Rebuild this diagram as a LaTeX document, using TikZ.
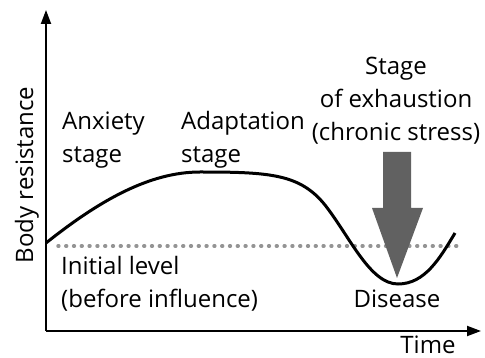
\documentclass[tikz,border=0pt]{standalone}
\usepackage{fontspec}
\setmainfont{Open Sans}
\usepackage{tikz}
\usetikzlibrary{arrows.meta}
\tikzset{>={Triangle[length=14pt,width=10pt]}}
\colorlet{penColor}{black}
\colorlet{dotColor}{black!42}
\colorlet{arrowColor}{black!62}

\begin{document}
\begin{tikzpicture}[x=1pt,y=-1pt,
    label/.style={font=\fontsize{24}{33}\selectfont,inner sep=0pt,align=left},
    clabel/.style={label,align=center}]
    \useasboundingbox (0,0) rectangle (485,358);

    % axes
    \coordinate (O) at (46,331);
    \coordinate (Ytop) at (46,10);
    \coordinate (Xend) at (481,331);
    \draw[penColor,line width=2pt,->] (O)--(Ytop);
    \draw[penColor,line width=2pt,->] (O)--(Xend);

    % initial level
    \coordinate (L1) at (58,246);
    \coordinate (L2) at (458,246);
    \draw[dotColor,line width=3.5pt,line cap=round,dash pattern=on 0.8pt off 7pt] (L1)--(L2);

    % resistance curve
    \coordinate (C0) at (46,243);
    \coordinate (C1) at (200,172);
    \coordinate (C2) at (325,205);
    \coordinate (C3) at (398,284);
    \coordinate (C4) at (455,233);
    \draw[penColor,line width=3pt] (C0) .. controls (100,200) and (150,172) .. (C1)
      .. controls (270,172) and (300,174) .. (C2)
      .. controls (350,237) and (370,284) .. (C3)
      .. controls (425,284) and (440,258) .. (C4);

    % exhaustion arrow
    \fill[arrowColor] (383,152)--(411,152)--(411,208)--(423,208)--(397,278)--(372,208)--(383,208)--cycle;

    % texts
    \node[label,rotate=90,anchor=base] (body) at (33,175) {Body resistance};
    \node[label,anchor=base west] (anx) at (62,163) {Anxiety\\stage};
    \node[label,anchor=base west] (adapt) at (181,163) {Adaptation\\stage};
    \node[clabel,anchor=base] (exh) at (396,141) {Stage\\of exhaustion\\(chronic stress)};
    \node[label,anchor=base west] (init) at (61,308) {Initial level\\(before influence)};
    \node[label,anchor=base] (dis) at (397,308) {Disease};
    \node[label,anchor=base] (time) at (428,353) {Time};
  \end{tikzpicture}
\end{document}
